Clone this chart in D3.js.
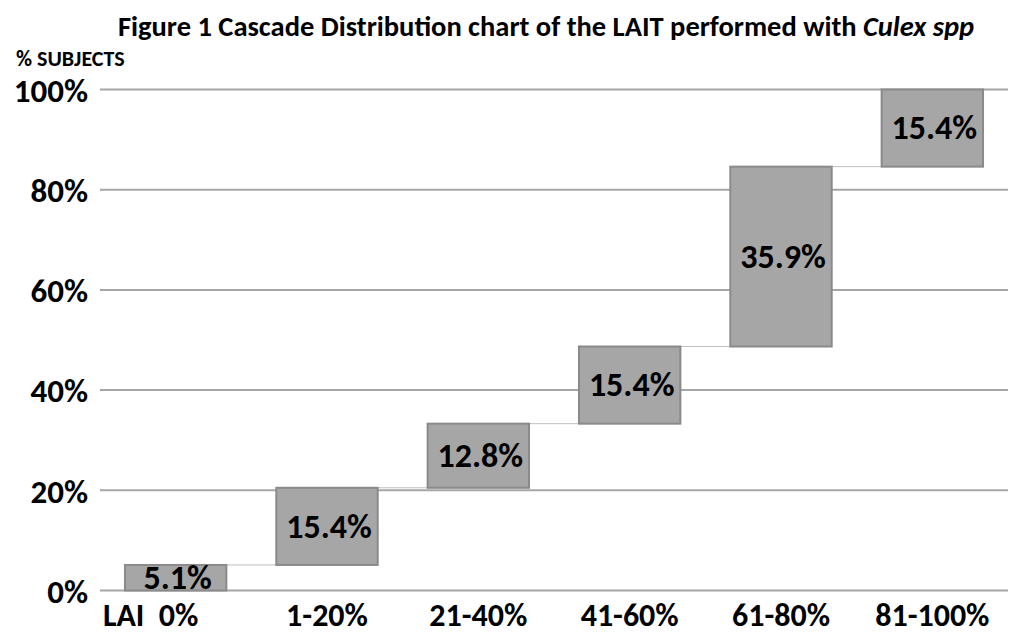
<!DOCTYPE html>
<html>
<head>
<meta charset="utf-8">
<script src="https://cdn.jsdelivr.net/npm/d3@7"></script>
<style>
  body { margin: 0; background: #fff; }
  svg text { font-family: Carlito, "Liberation Sans Narrow", "Open Sans", sans-serif; font-weight: bold; fill: #000; }
</style>
</head>
<body>
<div id="chart"></div>
<script>
// Chart data
const categories = ["LAI  0%", "1-20%", "21-40%", "41-60%", "61-80%", "81-100%"];
const values = [5.1, 15.4, 12.8, 15.4, 35.9, 15.4];
const yTicks = [0, 20, 40, 60, 80, 100];

const W = 1013, H = 633;
const margin = {top: 89.5, right: 5, bottom: 42.5, left: 100};

const svg = d3.select("#chart")
    .append("svg")
    .attr("width", W)
    .attr("height", H);

// waterfall: each bar starts where the previous one ended
let running = 0;
const bars = categories.map((c, i) => {
    const start = running;
    running += values[i];
    return {cat: c, value: values[i], start: start, end: running};
});

const x = d3.scaleBand()
    .domain(categories)
    .range([margin.left, W - margin.right])
    .paddingInner(0.33)
    .paddingOuter(0.165);

const y = d3.scaleLinear()
    .domain([0, 100])
    .range([H - margin.bottom, margin.top]);

// gridlines
svg.append("g")
    .selectAll("line")
    .data(yTicks)
    .join("line")
    .attr("x1", margin.left)
    .attr("x2", W - margin.right)
    .attr("y1", d => y(d))
    .attr("y2", d => y(d))
    .attr("stroke", "#a6a6a6")
    .attr("stroke-width", 2);

// y axis labels
const yAxis = d3.axisLeft(y)
    .tickValues(yTicks)
    .tickFormat(d => d + "%")
    .tickSize(0)
    .tickPadding(12);

svg.append("g")
    .attr("transform", `translate(${margin.left},0)`)
    .call(yAxis)
    .call(g => g.select(".domain").remove())
    .selectAll("text")
    .attr("font-size", 33)
    .attr("font-family", null)
    .attr("dy", "0.36em");

// x axis labels
const xAxis = d3.axisBottom(x).tickSize(0).tickPadding(10);
svg.append("g")
    .attr("transform", `translate(0,${y(0)})`)
    .call(xAxis)
    .call(g => g.select(".domain").remove())
    .selectAll("text")
    .attr("font-size", 32)
    .attr("font-family", null)
    .attr("y", 35)
    .attr("dy", 0)
    .attr("dx", (d, i) => i === 0 ? -25 : 0)
    .style("white-space", "pre");

// connector lines between bars
svg.append("g")
    .selectAll("line")
    .data(bars.slice(0, -1))
    .join("line")
    .attr("x1", d => x(d.cat) + x.bandwidth())
    .attr("x2", (d, i) => x(categories[i + 1]))
    .attr("y1", d => y(d.end))
    .attr("y2", d => y(d.end))
    .attr("stroke", "#bfbfbf")
    .attr("stroke-width", 1);

// bars
svg.append("g")
    .selectAll("rect")
    .data(bars)
    .join("rect")
    .attr("x", d => x(d.cat))
    .attr("y", d => y(d.end))
    .attr("width", x.bandwidth())
    .attr("height", d => y(d.start) - y(d.end))
    .attr("fill", "#a6a6a6")
    .attr("stroke", "#8a8a8a")
    .attr("stroke-width", 2);

// value labels
svg.append("g")
    .selectAll("text")
    .data(bars)
    .join("text")
    .attr("x", d => x(d.cat) + x.bandwidth() / 2 + 2)
    .attr("y", d => y((d.start + d.end) / 2))
    .attr("dy", "0.33em")
    .attr("text-anchor", "middle")
    .attr("font-size", 34)
    .text(d => d.value.toFixed(1) + "%");

// title
const title = svg.append("text")
    .attr("x", 546)
    .attr("y", 36)
    .attr("text-anchor", "middle")
    .attr("font-size", 28.5);
title.append("tspan").text("Figure 1 Cascade Distribution chart of the LAIT performed with ");
title.append("tspan").attr("font-style", "italic").text("Culex spp");

// y axis title
svg.append("text")
    .attr("x", 16)
    .attr("y", 66)
    .attr("font-size", 22)
    .text("% SUBJECTS");
</script>
</body>
</html>
